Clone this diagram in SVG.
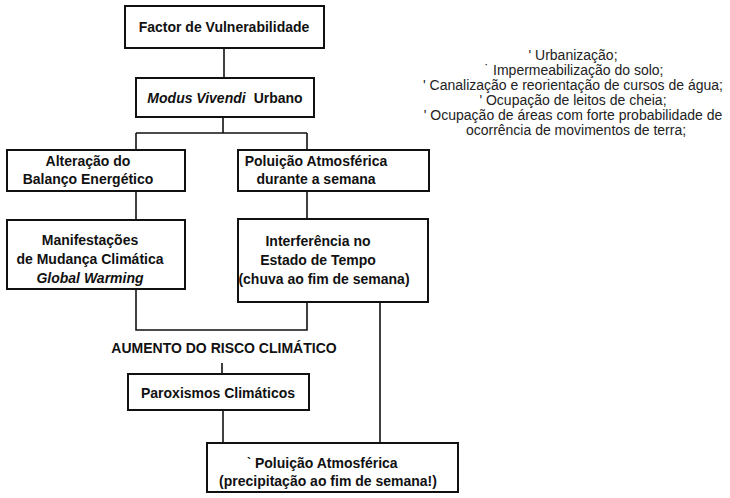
<svg xmlns="http://www.w3.org/2000/svg" width="730" height="498" viewBox="0 0 730 498">
<style>
.box{fill:#fff;stroke:#111;stroke-width:2}
.t{font-family:"Liberation Sans",Arial,sans-serif;font-size:14px;font-weight:bold;fill:#111;text-anchor:middle}
.i{font-style:italic}
.n{font-family:"Liberation Sans",Arial,sans-serif;font-size:14px;fill:#222;text-anchor:middle}
.c{fill:none;stroke:#111;stroke-width:1.6}
</style>
<rect width="730" height="498" fill="#fff"/>
<g id="connectors">
<path class="c" d="M224 48V78"/>
<path class="c" d="M223 117V133M136 133H307M136 133V150M307 133V150"/>
<path class="c" d="M136 191V220M307 191V219"/>
<path class="c" d="M136 289V330H307V302"/>
<path class="c" d="M222 363V374"/>
<path class="c" d="M223 410V443"/>
<path class="c" d="M380 302V443"/>
</g>
<g id="n1"><rect class="box" x="125" y="6" width="199" height="42"/><text class="t" x="224" y="32">Factor de Vulnerabilidade</text></g>
<g id="n2"><rect class="box" x="136" y="78" width="178" height="39"/><text class="t" x="225" y="103"><tspan class="i">Modus Vivendi</tspan><tspan dx="8">Urbano</tspan></text></g>
<g id="n3"><rect class="box" x="7" y="150" width="178" height="41"/><text class="t" x="88" y="166">Alteração do</text><text class="t" x="88" y="184">Balanço Energético</text></g>
<g id="n4"><rect class="box" x="238" y="150" width="191" height="41"/><text class="t" x="316" y="166">Poluição Atmosférica</text><text class="t" x="316" y="184">durante a semana</text></g>
<g id="n5"><rect class="box" x="7" y="220" width="178" height="69"/><text class="t" x="90" y="245">Manifestações</text><text class="t" x="90" y="264">de Mudança Climática</text><text class="t i" x="90" y="283">Global Warming</text></g>
<g id="n6"><rect class="box" x="238" y="219" width="190" height="83"/><text class="t" x="318" y="246">Interferência no</text><text class="t" x="318" y="265">Estado de Tempo</text><text class="t" x="324" y="284">(chuva ao fim de semana)</text></g>
<g id="risk"><text class="t" x="224" y="353">AUMENTO DO RISCO CLIMÁTICO</text></g>
<g id="n7"><rect class="box" x="128" y="374" width="181" height="36"/><text class="t" x="218" y="398">Paroxismos Climáticos</text></g>
<g id="n8"><rect class="box" x="207" y="443" width="251" height="49"/><text class="t" x="322" y="468">ˋ Poluição Atmosférica</text><text class="t" x="328" y="486">(precipitação ao fim de semana!)</text></g>
<g id="notes">
<text class="n" x="573" y="60">' Urbanização;</text>
<text class="n" x="574" y="75">˙ Impermeabilização do solo;</text>
<text class="n" x="573" y="90">' Canalização e reorientação de cursos de água;</text>
<text class="n" x="573" y="105">' Ocupação de leitos de cheia;</text>
<text class="n" x="573" y="120">' Ocupação de áreas com forte probabilidade de</text>
<text class="n" x="576" y="135">ocorrência de movimentos de terra;</text>
</g>
</svg>
